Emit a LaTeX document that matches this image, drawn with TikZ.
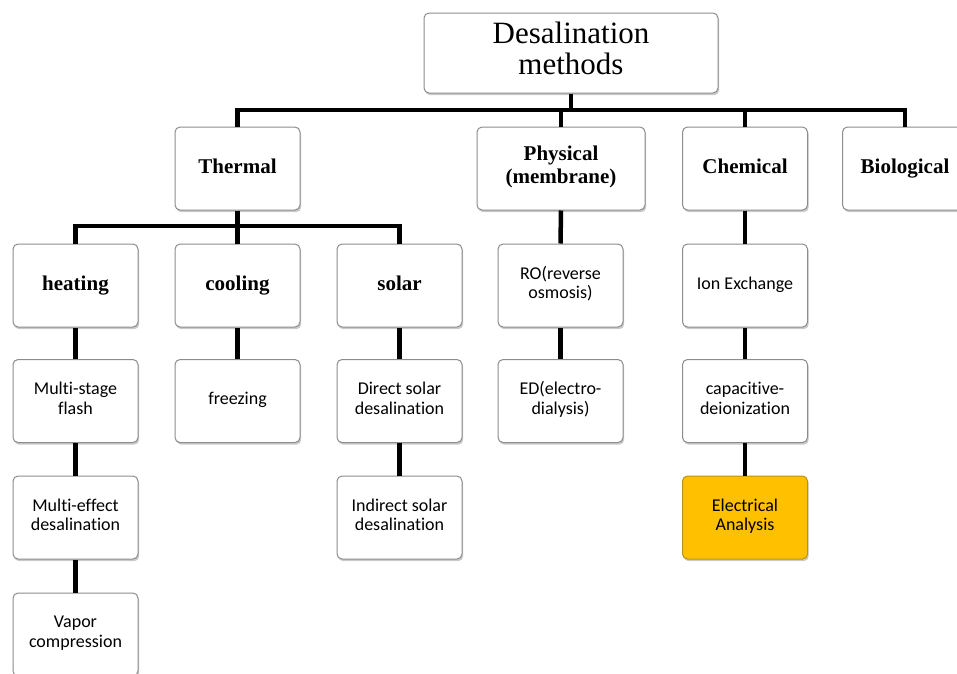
\documentclass[tikz,border=0pt]{standalone}
\usepackage{fontspec}
\setmainfont{Liberation Serif}
\newfontfamily\calibri[Ligatures=NoCommon]{Carlito}
\usepackage{tikz}
\usetikzlibrary{shadows}
\definecolor{boxline}{RGB}{140,140,140}
\definecolor{amber}{RGB}{255,192,0}
\definecolor{amberline}{RGB}{190,145,20}

\begin{document}
\begin{tikzpicture}[x=1pt, y=-1pt,
  box/.style={draw=boxline, line width=1pt, fill=white, rounded corners=5pt,
    minimum width=125pt, minimum height=83pt, align=center, inner sep=2pt,
    execute at begin node=\strut, execute at end node=\strut,
    drop shadow={shadow xshift=1.2pt, shadow yshift=-2.2pt, opacity=0.35, fill=black!60}},
  head/.style={box, font=\fontsize{21}{23}\selectfont\bfseries},
  leaf/.style={box, font=\calibri\fontsize{18}{19.5}\selectfont},
  link/.style={line width=4.5pt},
]
\clip (0,0) rectangle (957,673);
% Root
\node[box, minimum width=294pt, minimum height=80pt, font=\fontsize{31}{31}\selectfont,
  execute at begin node={}]
  (root) at (571,53) {Desalination\\methods};
% First level
\node[head] (thermal) at (237.5,168.5) {Thermal};
\node[head, minimum width=168pt] (physical) at (561,168.5) {Physical\\(membrane)};
\node[head] (chemical) at (745,168.5) {Chemical};
\node[head] (biological) at (905,168.5) {Biological};
% Thermal branches
\node[head] (heating) at (75.5,285.5) {heating};
\node[head] (cooling) at (237.5,285.5) {cooling};
\node[head] (solar) at (399.5,285.5) {solar};
% Heating column
\node[leaf] (msf) at (75.5,401) {Multi-stage\\flash};
\node[leaf] (med) at (75.5,517.5) {Multi-effect\\desalination};
\node[leaf] (vapor) at (75.5,634.5) {Vapor\\compression};
% Cooling column
\node[leaf] (freezing) at (237.5,401) {freezing};
% Solar column
\node[leaf] (direct) at (399.5,401) {Direct solar\\desalination};
\node[leaf] (indirect) at (399.5,517.5) {Indirect solar\\desalination};
% Membrane column
\node[leaf] (ro) at (560.5,285.5) {RO(reverse\\osmosis)};
\node[leaf] (ed) at (560.5,401) {ED(electro-\\dialysis)};
% Chemical column
\node[leaf] (ion) at (745,285.5) {Ion Exchange};
\node[leaf] (cdi) at (745,401) {capacitive-\\deionization};
\node[leaf, fill=amber, draw=amberline] (elec) at (745,517.5) {Electrical\\Analysis};
% Connectors
\coordinate (rootbar) at (571,110);
\coordinate (thermbar) at (237.5,226);
\draw[link] (root.south) -- (rootbar);
\foreach \n in {thermal,physical,chemical,biological}
  \draw[link] (rootbar) -| (\n.north);
\draw[link] (thermal.south) -- (thermbar);
\foreach \n in {heating,cooling,solar}
  \draw[link] (thermbar) -| (\n.north);
\foreach \a/\b in {heating/msf, msf/med, med/vapor, cooling/freezing, solar/direct,
  direct/indirect, physical/ro, ro/ed, chemical/ion, ion/cdi, cdi/elec}
  \draw[link] (\a.south) -- (\b.north);
\end{tikzpicture}
\end{document}
